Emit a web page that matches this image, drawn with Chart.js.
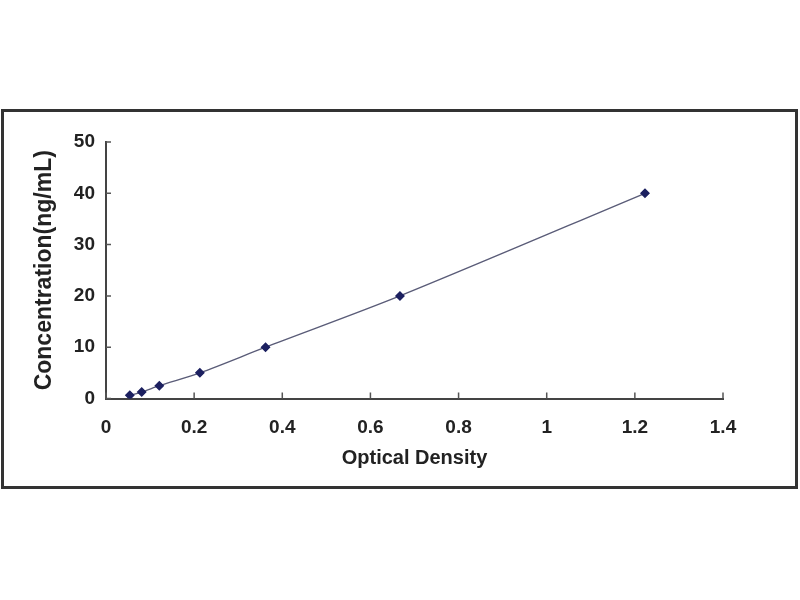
<!DOCTYPE html>
<html>
<head>
<meta charset="utf-8">
<script src="https://cdn.jsdelivr.net/npm/chart.js@4"></script>
<style>
  body { margin: 0; background: #fff; }
  #frame {
    position: absolute;
    left: 1px; top: 109px;
    width: 791px; height: 374px;
    border: 3px solid #333;
    background: #fff;
  }
</style>
</head>
<body>
<div id="frame"><canvas id="curve" width="791" height="374"></canvas></div>
<script>
// Dados da curva padrão
var opticalDensity = [0.054, 0.081, 0.121, 0.213, 0.362, 0.667, 1.223];
var concentration = [0.625, 1.25, 2.5, 5, 10, 20, 40];
var xTicks = [0, 0.2, 0.4, 0.6, 0.8, 1, 1.2, 1.4];
var yTicks = [0, 10, 20, 30, 40, 50];

var points = opticalDensity.map(function(x, i) {
    return { x: x, y: concentration[i] };
});

// Pequenas marcas de escala voltadas para dentro
var innerTicks = {
    id: 'innerTicks',
    afterDraw: function(chart) {
        var c = chart.ctx, xs = chart.scales.x, ys = chart.scales.y;
        c.save();
        c.strokeStyle = '#555';
        c.lineWidth = 1.5;
        c.beginPath();
        xTicks.forEach(function(v) {
            var px = xs.getPixelForValue(v);
            c.moveTo(px, ys.bottom);
            c.lineTo(px, ys.bottom - 6);
        });
        yTicks.forEach(function(v) {
            var py = ys.getPixelForValue(v);
            c.moveTo(xs.left, py);
            c.lineTo(xs.left + 5, py);
        });
        c.stroke();
        c.restore();
    }
};

var ctx = document.getElementById('curve').getContext('2d');
var chart = new Chart(ctx, {
    type: 'scatter',
    data: {
        datasets: [{
            data: points,
            showLine: true,
            borderColor: '#5a5c78',
            borderWidth: 1.4,
            tension: 0.3,
            pointStyle: 'rectRot',
            pointRadius: 4,
            pointBackgroundColor: '#1c2060',
            pointBorderColor: '#1c2060'
        }]
    },
    options: {
        responsive: false,
        animation: false,
        layout: { padding: { top: 30, right: 72, left: 0, bottom: 0 } },
        plugins: {
            legend: { display: false },
            tooltip: { enabled: false }
        },
        scales: {
            x: {
                type: 'linear',
                min: 0,
                max: 1.4,
                afterBuildTicks: function(s) { s.ticks = xTicks.map(function(v) { return { value: v }; }); },
                afterFit: function(s) { s.height = 87.5; },
                grid: { drawOnChartArea: false, drawTicks: false },
                border: { color: '#444', width: 2 },
                ticks: {
                    padding: 18,
                    color: '#222',
                    font: { family: 'Liberation Sans, Arial', size: 19, weight: 'bold' },
                    callback: function(v) { return String(parseFloat(v.toFixed(1))); }
                },
                title: {
                    display: true,
                    text: 'Optical Density',
                    color: '#222',
                    font: { family: 'Liberation Sans, Arial', size: 20, weight: 'bold' },
                    padding: { top: 0, bottom: 16 }
                }
            },
            y: {
                min: 0,
                max: 50,
                afterBuildTicks: function(s) { s.ticks = yTicks.map(function(v) { return { value: v }; }); },
                afterFit: function(s) { s.width = 102; },
                grid: { drawOnChartArea: false, drawTicks: false },
                border: { color: '#444', width: 2 },
                ticks: {
                    padding: 11,
                    color: '#222',
                    font: { family: 'Liberation Sans, Arial', size: 19, weight: 'bold' }
                },
                title: {
                    display: true,
                    text: 'Concentration(ng/mL)',
                    color: '#222',
                    font: { family: 'Liberation Sans, Arial', size: 23, weight: 'bold' },
                    padding: { top: 27, bottom: 0 }
                }
            }
        }
    },
    plugins: [innerTicks]
});
</script>
</body>
</html>
